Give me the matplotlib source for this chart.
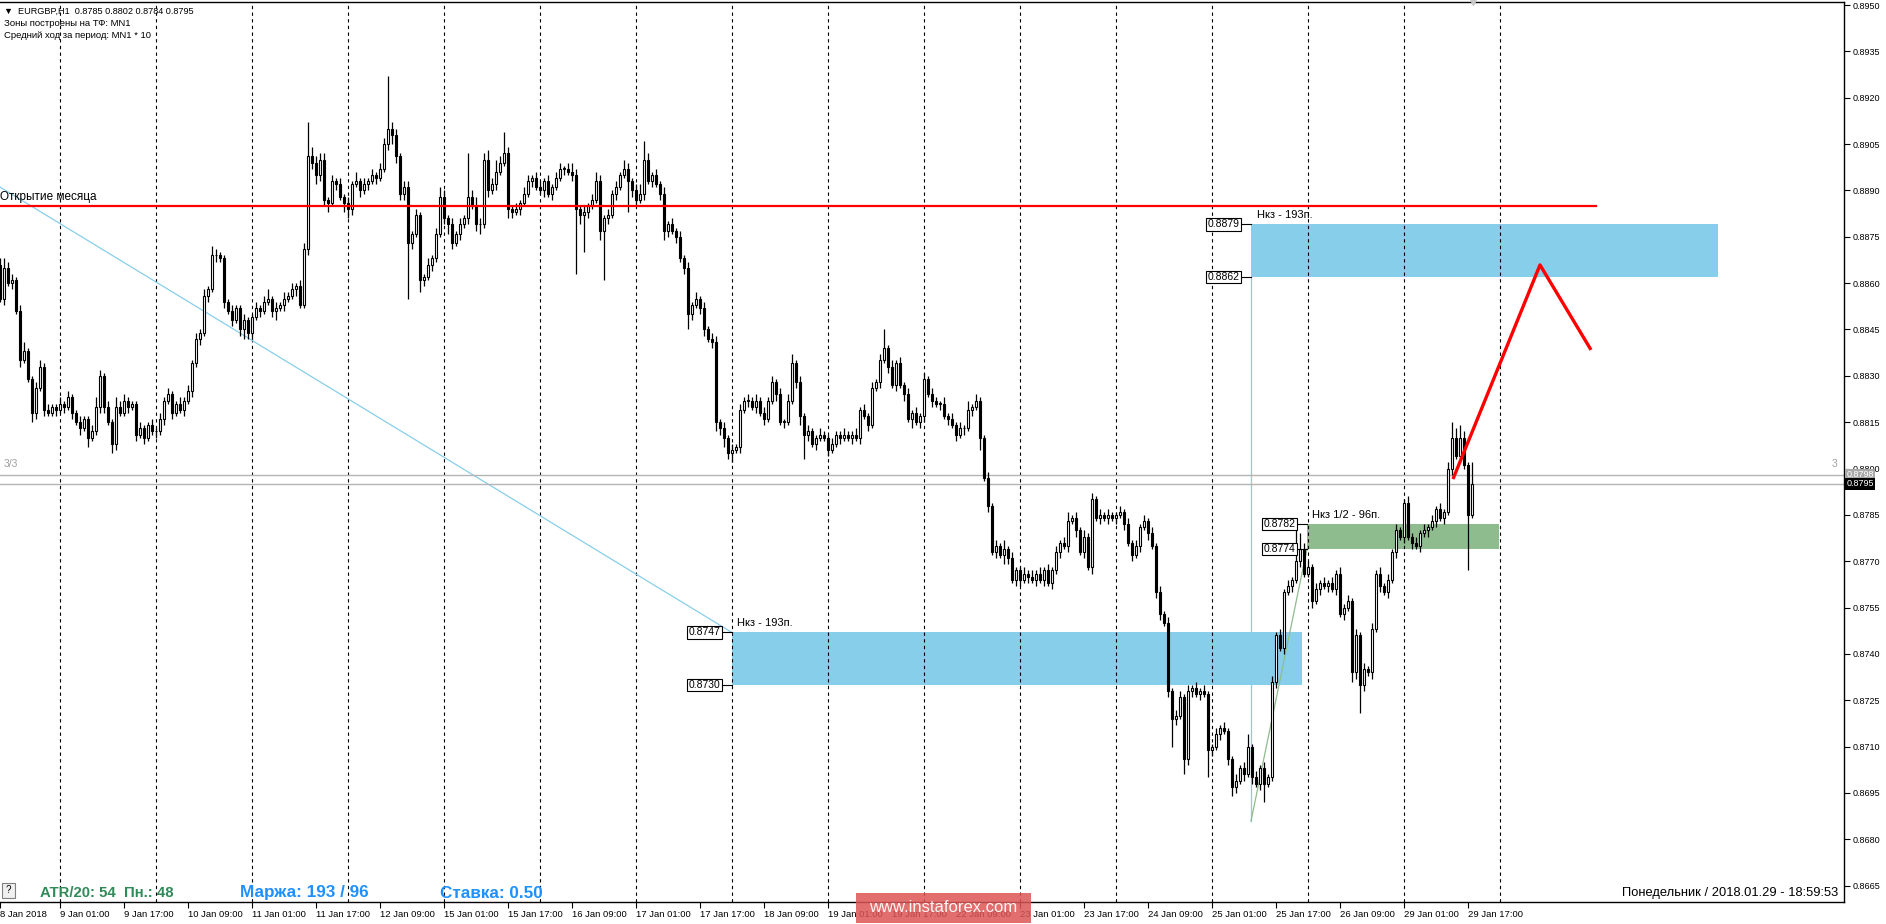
import numpy as np
import matplotlib
matplotlib.use('Agg')
import matplotlib.pyplot as plt
from matplotlib.patches import Rectangle
import matplotlib.transforms as mtrans

FONT = ['Liberation Sans', 'DejaVu Sans']
plt.rcParams['font.family'] = FONT

# ---------------- data (prices in 1/10000) ----------------
first_open = 8866
closes_by_day = [
    [8855, 8865, 8860, 8861, 8851, 8835, 8838, 8829, 8818, 8826, 8833, 8819, 8818, 8820, 8819],
    [8821, 8820, 8823, 8818, 8815, 8813, 8816, 8810, 8812, 8820, 8830, 8820, 8815, 8808, 8820, 8818, 8822, 8820, 8821, 8811, 8813, 8810, 8814, 8812],
    [8812, 8816, 8822, 8824, 8818, 8821, 8819, 8822, 8825, 8834, 8842, 8844, 8856, 8858, 8869, 8869, 8868, 8854, 8851, 8848, 8852, 8845, 8848, 8844],
    [8849, 8852, 8851, 8854, 8855, 8851, 8852, 8853, 8855, 8856, 8858, 8859, 8853, 8871, 8901, 8899, 8895, 8900, 8887, 8886, 8893, 8892, 8888, 8886],
    [8884, 8892, 8893, 8890, 8892, 8893, 8895, 8894, 8897, 8905, 8910, 8908, 8901, 8889, 8891, 8873, 8876, 8882, 8861, 8862, 8866, 8868, 8876, 8888],
    [8881, 8879, 8873, 8876, 8879, 8881, 8888, 8885, 8879, 8879, 8900, 8890, 8892, 8896, 8899, 8902, 8884, 8883, 8884, 8886, 8889, 8893, 8894, 8891],
    [8890, 8893, 8889, 8891, 8894, 8897, 8897, 8896, 8895, 8884, 8882, 8883, 8885, 8887, 8893, 8877, 8881, 8882, 8889, 8891, 8895, 8897, 8893, 8890],
    [8887, 8889, 8900, 8893, 8895, 8892, 8889, 8877, 8879, 8877, 8875, 8868, 8865, 8850, 8853, 8855, 8852, 8845, 8842, 8841, 8815, 8813, 8810, 8805],
    [8806, 8807, 8819, 8822, 8822, 8820, 8822, 8818, 8816, 8822, 8828, 8824, 8815, 8815, 8822, 8834, 8828, 8817, 8811, 8812, 8808, 8810, 8811, 8810],
    [8806, 8808, 8811, 8810, 8811, 8810, 8811, 8810, 8819, 8817, 8814, 8826, 8828, 8835, 8839, 8833, 8827, 8834, 8827, 8824, 8816, 8818, 8815, 8817],
    [8829, 8824, 8822, 8821, 8821, 8817, 8816, 8814, 8811, 8813, 8813, 8819, 8820, 8822, 8810, 8797, 8788, 8773, 8775, 8772, 8774, 8771, 8764, 8767],
    [8764, 8766, 8765, 8764, 8766, 8764, 8767, 8763, 8767, 8773, 8776, 8775, 8783, 8784, 8780, 8773, 8778, 8768, 8790, 8784, 8785, 8784, 8785, 8784],
    [8785, 8786, 8782, 8776, 8772, 8775, 8781, 8783, 8779, 8775, 8760, 8753, 8750, 8728, 8719, 8720, 8726, 8706, 8728, 8729, 8727, 8728, 8727, 8709],
    [8710, 8714, 8716, 8715, 8706, 8697, 8699, 8703, 8701, 8710, 8700, 8698, 8703, 8698, 8700, 8731, 8746, 8742, 8760, 8762, 8764, 8770, 8774, 8766],
    [8768, 8757, 8761, 8763, 8762, 8763, 8761, 8766, 8753, 8755, 8757, 8734, 8746, 8730, 8735, 8734, 8748, 8766, 8762, 8760, 8764, 8773, 8780, 8778],
    [8789, 8778, 8776, 8775, 8779, 8780, 8781, 8783, 8787, 8784, 8786, 8800, 8810, 8804, 8810, 8801, 8785, 8795],
]
upper_wick_by_day = [
    [2, 3, 2, 2, 1, 2, 3, 1, 1, 2, 2, 1, 2, 1, 1],
    [2, 1, 2, 1, 1, 2, 1, 1, 2, 3, 2, 1, 2, 1, 3, 2, 2, 1, 1, 1, 2, 1, 1, 2],
    [1, 2, 1, 2, 1, 1, 2, 1, 2, 1, 2, 1, 2, 1, 3, 2, 1, 1, 1, 2, 1, 1, 2, 1],
    [1, 2, 1, 2, 3, 1, 2, 1, 2, 1, 2, 1, 2, 2, 11, 3, 2, 2, 2, 1, 2, 1, 2, 1],
    [2, 1, 3, 1, 2, 1, 2, 1, 2, 2, 17, 2, 2, 1, 2, 2, 1, 2, 1, 1, 2, 1, 2, 3],
    [2, 1, 2, 1, 2, 1, 14, 2, 3, 2, 2, 3, 2, 4, 2, 7, 2, 1, 2, 1, 2, 2, 1, 2],
    [2, 1, 2, 1, 2, 2, 1, 2, 3, 2, 1, 2, 1, 2, 3, 2, 1, 2, 1, 2, 1, 3, 2, 1],
    [2, 3, 6, 2, 1, 2, 1, 2, 1, 2, 1, 2, 1, 2, 1, 2, 1, 2, 1, 2, 2, 1, 2, 1],
    [2, 1, 2, 1, 2, 1, 2, 1, 2, 1, 2, 1, 2, 1, 2, 3, 1, 2, 1, 2, 1, 1, 2, 1],
    [1, 2, 1, 1, 2, 1, 1, 2, 1, 2, 1, 2, 1, 2, 6, 1, 2, 1, 2, 1, 2, 1, 2, 1],
    [2, 1, 2, 1, 1, 2, 1, 2, 1, 2, 1, 3, 1, 2, 1, 1, 2, 1, 2, 1, 3, 1, 2, 1],
    [1, 2, 1, 2, 1, 2, 1, 2, 1, 2, 1, 2, 3, 1, 2, 1, 2, 1, 2, 1, 2, 1, 2, 1],
    [1, 2, 1, 2, 1, 2, 1, 2, 1, 2, 1, 2, 1, 2, 1, 2, 2, 1, 2, 1, 2, 1, 2, 1],
    [1, 2, 1, 2, 1, 1, 2, 1, 2, 4, 1, 2, 1, 2, 1, 2, 1, 2, 1, 2, 1, 14, 5, 2],
    [2, 1, 2, 1, 2, 1, 2, 1, 2, 1, 2, 1, 2, 1, 2, 1, 2, 1, 2, 1, 2, 1, 2, 1],
    [1, 2, 1, 2, 1, 2, 1, 2, 1, 2, 1, 2, 5, 3, 4, 2, 1, 7],
]
lower_wick_by_day = [
    [1, 2, 1, 2, 1, 2, 1, 1, 3, 2, 1, 2, 1, 1, 2],
    [1, 2, 1, 2, 1, 2, 1, 3, 1, 1, 2, 2, 1, 3, 2, 1, 1, 2, 1, 2, 1, 2, 1, 1],
    [2, 1, 2, 1, 2, 1, 1, 2, 1, 2, 1, 2, 1, 2, 1, 2, 1, 2, 1, 2, 1, 2, 3, 2],
    [2, 1, 2, 1, 1, 2, 3, 1, 2, 1, 1, 2, 1, 1, 2, 2, 3, 2, 2, 3, 1, 2, 1, 3],
    [3, 2, 1, 2, 1, 2, 1, 2, 1, 1, 2, 3, 2, 2, 2, 18, 2, 1, 4, 2, 1, 2, 1, 1],
    [2, 3, 2, 1, 2, 1, 2, 1, 2, 3, 1, 2, 1, 2, 1, 1, 3, 2, 1, 2, 1, 1, 2, 1],
    [1, 2, 1, 2, 1, 1, 2, 1, 2, 21, 3, 12, 2, 1, 1, 3, 16, 2, 1, 2, 1, 1, 10, 2],
    [2, 1, 2, 1, 2, 1, 2, 3, 2, 1, 2, 1, 2, 5, 2, 1, 2, 2, 1, 2, 3, 2, 3, 2],
    [3, 1, 2, 1, 2, 1, 2, 1, 2, 1, 1, 2, 1, 2, 1, 1, 2, 3, 8, 2, 1, 2, 1, 1],
    [2, 1, 1, 2, 1, 1, 2, 1, 2, 1, 2, 1, 1, 2, 1, 2, 1, 2, 1, 2, 1, 3, 1, 2],
    [2, 1, 2, 1, 2, 1, 2, 1, 2, 1, 2, 1, 2, 1, 4, 1, 2, 1, 2, 1, 3, 2, 1, 2],
    [2, 1, 2, 1, 2, 1, 2, 1, 2, 1, 2, 1, 2, 1, 2, 1, 2, 1, 2, 1, 2, 1, 2, 1],
    [2, 1, 2, 1, 2, 1, 2, 1, 2, 1, 2, 2, 1, 2, 9, 2, 1, 5, 2, 2, 1, 2, 1, 9],
    [2, 1, 2, 1, 2, 3, 2, 1, 2, 1, 2, 1, 2, 6, 1, 1, 2, 1, 2, 1, 2, 1, 2, 1],
    [1, 2, 1, 2, 1, 2, 1, 2, 1, 2, 1, 3, 2, 9, 2, 1, 2, 1, 2, 1, 2, 1, 2, 1],
    [2, 1, 2, 1, 2, 1, 2, 1, 2, 1, 2, 1, 2, 1, 2, 1, 18, 1],
]

time_tick_bars = [9, 24, 40, 56, 72, 88, 104, 120, 136, 152, 168, 184, 200, 216,
                  232, 248, 264, 280, 296, 312, 328, 344, 360, 376]
time_tick_labels = ['8 Jan 2018', '9 Jan 01:00', '9 Jan 17:00', '10 Jan 09:00', '11 Jan 01:00',
                    '11 Jan 17:00', '12 Jan 09:00', '15 Jan 01:00', '15 Jan 17:00', '16 Jan 09:00',
                    '17 Jan 01:00', '17 Jan 17:00', '18 Jan 09:00', '19 Jan 01:00', '19 Jan 17:00',
                    '22 Jan 09:00', '23 Jan 01:00', '23 Jan 17:00', '24 Jan 09:00', '25 Jan 01:00',
                    '25 Jan 17:00', '26 Jan 09:00', '29 Jan 01:00', '29 Jan 17:00']
separator_bars = [24, 48, 72, 96, 120, 144, 168, 192, 216, 240, 264, 288, 312, 336, 360, 384]
price_ticks = [0.8665, 0.8680, 0.8695, 0.8710, 0.8725, 0.8740, 0.8755, 0.8770, 0.8785, 0.8800,
               0.8815, 0.8830, 0.8845, 0.8860, 0.8875, 0.8890, 0.8905, 0.8920, 0.8935, 0.8950]

month_open = 0.8885
zone_upper = (0.8862, 0.8879)
zone_lower = (0.8730, 0.8747)
zone_half = (0.8774, 0.8782)
ask_price = 0.8798
bid_price = 0.8795
trend_bars = [9.0, 191.9]
trend_prices = [0.88911, 0.8747]
arrow_bars = [372.25, 394.0, 406.75]
arrow_prices = [0.87966, 0.88659, 0.88384]

# ---------------- assemble candles ----------------
xs, cs, ups, lows = [], [], [], []
for k, day in enumerate(closes_by_day):
    start = 24 * k if k > 0 else 24 - len(day)
    for j in range(len(day)):
        xs.append(start + j)
    cs += day
    ups += upper_wick_by_day[k]
    lows += lower_wick_by_day[k]
x = np.array(xs, dtype=float)
c = np.array(cs, dtype=float)
o = np.r_[first_open, c[:-1]]
hi = (np.maximum(o, c) + np.array(ups)) / 1e4
lo = (np.minimum(o, c) - np.array(lows)) / 1e4

W, H = 1886, 924
fig = plt.figure(figsize=(W / 100, H / 100), dpi=100)
fig.patch.set_facecolor('white')
ax = fig.add_axes([0, 22 / H, 1844 / W, 900 / H])
ax.set_xlim(9, 470)
ax.set_ylim(0.86597, 0.89510)
ax.set_facecolor('white')
for s in ['top', 'right', 'bottom']:
    ax.spines[s].set_color('black')
    ax.spines[s].set_linewidth(1.0)
ax.spines['left'].set_visible(False)

# separators
for b in separator_bars:
    ax.axvline(b, color='black', lw=0.8, ls=(0, (3, 3)), zorder=2)

# zones
ax.add_patch(Rectangle((321.75, zone_upper[0]), 438.5 - 321.75, zone_upper[1] - zone_upper[0],
                       facecolor='#87CEEB', edgecolor='none', zorder=1))
ax.add_patch(Rectangle((191.9, zone_lower[0]), 334.5 - 191.9, zone_lower[1] - zone_lower[0],
                       facecolor='#87CEEB', edgecolor='none', zorder=1))
ax.add_patch(Rectangle((335.75, zone_half[0]), 383.75 - 335.75, zone_half[1] - zone_half[0],
                       facecolor='#8FBC8F', edgecolor='none', zorder=1))

# helper lines
ax.plot(trend_bars, trend_prices, color='#87CEEB', lw=0.9, zorder=2)
ax.plot([321.75, 321.75], [zone_upper[0], 0.86859], color='#87CEEB', lw=0.9, zorder=2)
ax.plot([321.75, 335.75], [0.86859, 0.87740], color='#8FBC8F', lw=0.9, zorder=2)

# bid/ask lines
ax.axhline(ask_price, color='#B4B4B4', lw=1.0, zorder=2)
ax.axhline(bid_price, color='#B4B4B4', lw=1.0, zorder=2)

# candles
ax.vlines(x, lo, hi, color='black', lw=0.9, zorder=3)
bull = c >= o
height = np.maximum(np.abs(c - o) / 1e4, 0.000025)
bottom = np.minimum(o, c) / 1e4
ax.bar(x, height, width=0.72, bottom=bottom, color=np.where(bull, 'white', 'black'),
       edgecolor='black', linewidth=0.8, zorder=4)

# month open line
ax.plot([9, 408], [month_open, month_open], color='red', lw=1.6, zorder=5)
ax.text(9.1, month_open + 0.00008, 'Открытие месяца', fontsize=8.5, va='bottom', ha='left',
        color='black', zorder=6)

# red forecast path
ax.plot(arrow_bars, arrow_prices, color='red', lw=2.4, zorder=6, solid_capstyle='butt')

# level labels
def level_label(xr, xbox, p):
    ax.plot([xr, xbox], [p, p], color='black', lw=0.8, zorder=6)
    ax.text(xr - 0.4, p, f'{p:.4f}', fontsize=7.5, ha='right', va='center', zorder=7,
            bbox=dict(boxstyle='square,pad=0.12', facecolor='white', edgecolor='black', lw=0.8))

level_label(319.25, 321.75, zone_upper[1])
level_label(319.25, 321.75, zone_upper[0])
level_label(189.5, 191.9, zone_lower[1])
level_label(189.5, 191.9, zone_lower[0])
level_label(333.25, 335.75, zone_half[1])
level_label(333.25, 335.75, zone_half[0])

ax.text(323.3, 0.88820, 'Нкз - 193п.', fontsize=8, ha='left', va='center', zorder=7)
ax.text(193.3, 0.87500, 'Нкз - 193п.', fontsize=8, ha='left', va='center', zorder=7)
ax.text(337.0, 0.87850, 'Нкз 1/2 - 96п.', fontsize=8, ha='left', va='center', zorder=7)

# 3/3 marks
bt_ad = mtrans.blended_transform_factory(ax.transAxes, ax.transData)
ax.text(0.002, 0.88015, '3/3', transform=bt_ad, fontsize=7.5, color='#A0A0A0', va='center', ha='left')
ax.text(0.9935, 0.88015, '3', transform=bt_ad, fontsize=7.5, color='#A0A0A0', va='center', ha='left')
ax.plot([377.25], [1.0], marker='v', color='#C8C8C8', markersize=5,
        transform=mtrans.blended_transform_factory(ax.transData, ax.transAxes), clip_on=False,
        zorder=8)

# axes ticks
ax.yaxis.tick_right()
ax.set_yticks(price_ticks)
ax.set_yticklabels([f'{t:.4f}' for t in price_ticks])
ax.tick_params(axis='y', direction='out', length=4, width=0.8, pad=2, labelsize=6.5, colors='black')
ax.set_xticks(time_tick_bars)
ax.set_xticklabels(time_tick_labels)
ax.tick_params(axis='x', direction='out', length=4, width=0.8, pad=2, labelsize=6.8)
for lab in ax.get_xticklabels():
    lab.set_horizontalalignment('left')

# price boxes
ax.text(1.0012, ask_price, f'{ask_price:.4f}', transform=bt_ad, fontsize=6.5, color='white',
        ha='left', va='center', clip_on=False, zorder=9,
        bbox=dict(boxstyle='square,pad=0.15', facecolor='#A8A8A8', edgecolor='none'))
ax.text(1.0012, bid_price, f'{bid_price:.4f}', transform=bt_ad, fontsize=6.5, color='white',
        ha='left', va='center', clip_on=False, zorder=9,
        bbox=dict(boxstyle='square,pad=0.15', facecolor='black', edgecolor='none'))

# top-left info
def fx(px):
    return px / W

def fy(py):
    return 1 - py / H

fig.text(fx(4), fy(11), '▼  EURGBP,H1  0.8785 0.8802 0.8784 0.8795', fontsize=6.6, va='center',
         ha='left', family=FONT)
fig.text(fx(4), fy(23), 'Зоны построены на ТФ: MN1', fontsize=6.8, va='center', ha='left')
fig.text(fx(4), fy(35), 'Средний ход за период: MN1 * 10', fontsize=6.8, va='center', ha='left')

# bottom info texts
fig.text(fx(40), fy(893), 'ATR/20: 54  Пн.: 48', fontsize=10.7, fontweight='bold', color='#2E8B57',
         va='center', ha='left')
fig.text(fx(240), fy(893), 'Маржа: 193 / 96', fontsize=12.3, fontweight='bold', color='#1E90FF',
         va='center', ha='left')
fig.text(fx(440), fy(893), 'Ставка: 0.50', fontsize=12.3, fontweight='bold', color='#1E90FF',
         va='center', ha='left')
fig.text(fx(1838), fy(893), 'Понедельник / 2018.01.29 - 18:59:53', fontsize=9.3, color='black',
         va='center', ha='right')

# question button
fig.patches.append(Rectangle((fx(2), fy(898)), 13 / W, 15 / H, transform=fig.transFigure,
                             facecolor='#F0F0F0', edgecolor='#808080', lw=0.8, zorder=10))
fig.text(fx(8.5), fy(890), '?', fontsize=7, ha='center', va='center', zorder=11)

# watermark
fig.patches.append(Rectangle((fx(856), fy(923)), 175 / W, 30 / H, transform=fig.transFigure,
                             facecolor='#DD5555', edgecolor='none', alpha=0.85, zorder=10))
fig.text(fx(943), fy(908), 'www.instaforex.com', fontsize=12, color='white', alpha=0.92,
         ha='center', va='center', zorder=11)

fig.savefig('out.png', dpi=100, facecolor='white')
